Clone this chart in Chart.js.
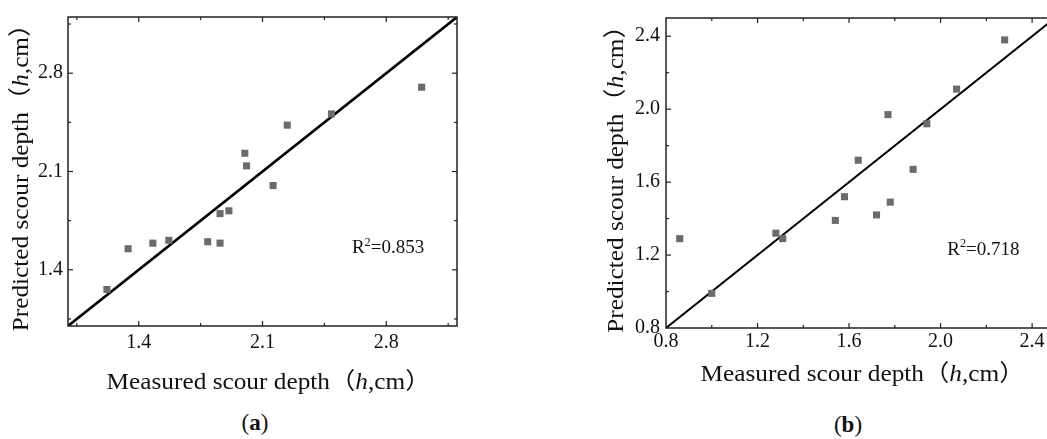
<!DOCTYPE html>
<html>
<head>
<meta charset="utf-8">
<script src="https://cdn.jsdelivr.net/npm/chart.js@4.4.1/dist/chart.umd.min.js"></script>
<style>
  html, body { margin: 0; padding: 0; background: #fff; }
  body { width: 1047px; height: 439px; overflow: hidden; position: relative; }
  .box { position: absolute; top: 0; height: 400px; }
  #boxA { left: 0; width: 470px; }
  #boxB { left: 570px; width: 500px; }
  .tag { position: absolute; font: 23px "Liberation Serif", serif; color: #111; transform: translate(-50%, -50%); }
  .tag b { font-weight: bold; }
</style>
</head>
<body>
<div class="box" id="boxA"><canvas id="chartA" width="470" height="400"></canvas></div>
<div class="box" id="boxB"><canvas id="chartB" width="500" height="400"></canvas></div>
<div class="tag" style="left:255px; top:423px">(<b>a</b>)</div>
<div class="tag" style="left:848px; top:425px">(<b>b</b>)</div>
<script>
// panel (a)
const measuredA = [1.22, 1.34, 1.48, 1.57, 1.79, 1.86, 1.86, 1.91, 2.00, 2.01, 2.16, 2.24, 2.49, 3.00];
const predictedA = [1.26, 1.55, 1.59, 1.61, 1.60, 1.59, 1.80, 1.82, 2.23, 2.14, 2.00, 2.43, 2.51, 2.70];
const lineA = [1.0, 3.2];
const ticksA = [1.4, 2.1, 2.8];
const minorA = [1.05, 1.75, 2.45, 3.15];
const r2A = "0.853";

// panel (b)
const measuredB = [0.86, 1.00, 1.28, 1.31, 1.54, 1.58, 1.64, 1.72, 1.77, 1.78, 1.88, 1.94, 2.07, 2.28];
const predictedB = [1.29, 0.99, 1.32, 1.29, 1.39, 1.52, 1.72, 1.42, 1.97, 1.49, 1.67, 1.92, 2.11, 2.38];
const lineB = [0.8, 2.5];
const ticksB = [0.8, 1.2, 1.6, 2.0, 2.4];
const minorB = [1.0, 1.4, 1.8, 2.2];
const r2B = "0.718";

const SERIF = '"Liberation Serif", "Noto Sans CJK SC", serif';

// draws a run of text pieces (some italic / superscript) centred on cx,cy
function drawRich(ctx, parts, cx, cy, size, rot, stretch) {
  ctx.save();
  ctx.translate(cx, cy);
  ctx.rotate(rot || 0);
  ctx.scale(stretch || 1, 1);
  ctx.fillStyle = "#111";
  ctx.textBaseline = "middle";
  const fontOf = p => (p.italic ? "italic " : "") + (p.sup ? size * 0.65 : size) + "px " + SERIF;
  let total = 0;
  parts.forEach(p => { ctx.font = fontOf(p); p.w = ctx.measureText(p.t).width; total += p.w; });
  let x = -total / 2;
  parts.forEach(p => {
    ctx.font = fontOf(p);
    ctx.fillText(p.t, x, p.sup ? -size * 0.3 : 0);
    x += p.w;
  });
  ctx.restore();
}

const frameTicks = {
  id: "frameTicks",
  afterDraw(chart, args, opts) {
    const { ctx, chartArea: a, scales: { x, y } } = chart;
    ctx.save();
    ctx.strokeStyle = "#222";
    ctx.lineWidth = 1.5;
    ctx.strokeRect(a.left, a.top, a.right - a.left, a.bottom - a.top);
    ctx.lineWidth = 1.2;
    const seg = (x1, y1, x2, y2) => { ctx.beginPath(); ctx.moveTo(x1, y1); ctx.lineTo(x2, y2); ctx.stroke(); };
    const marks = (vals, len) => {
      vals.forEach(v => {
        const px = x.getPixelForValue(v);
        if (px > a.left && px < a.right) {
          seg(px, a.bottom, px, a.bottom - len);
          seg(px, a.top, px, a.top + len);
        }
        const py = y.getPixelForValue(v);
        if (py > a.top && py < a.bottom) {
          seg(a.left, py, a.left + len, py);
          seg(a.right, py, a.right - len, py);
        }
      });
    };
    marks(opts.major, 5);
    marks(opts.minor, 3);
    ctx.restore();

    const cxTitle = (a.left + a.right) / 2 + (opts.xShift || 0);
    drawRich(ctx, [{ t: "Measured scour depth" }, { t: "（" }, { t: "h", italic: true }, { t: ",cm）" }],
      cxTitle, opts.xTitleY, 23, 0, 1.1);
    drawRich(ctx, [{ t: "Predicted scour depth" }, { t: "（" }, { t: "h", italic: true }, { t: ",cm）" }],
      opts.yTitleX, (a.top + a.bottom) / 2, 23, -Math.PI / 2, 1.1);
    drawRich(ctx, [{ t: "R" }, { t: "2", sup: true }, { t: "=" + opts.r2 }],
      x.getPixelForValue(opts.r2At[0]), y.getPixelForValue(opts.r2At[1]), 19, 0, 1);
  }
};

function makeChart(id, mx, my, fit, ticks, minor, r2, r2At, lay) {
  const tickList = scale => { scale.ticks = ticks.map(v => ({ value: v })); };
  const axis = (extra, pad) => Object.assign({
    type: "linear",
    min: fit[0],
    max: fit[1],
    afterBuildTicks: tickList,
    grid: { display: false, drawTicks: false },
    border: { display: false },
    ticks: {
      color: "#111",
      padding: pad,
      font: { family: SERIF, size: 20 },
      callback: v => v.toFixed(1)
    }
  }, extra);

  return new Chart(document.getElementById(id), {
    type: "scatter",
    data: {
      datasets: [
        {
          data: mx.map((v, i) => ({ x: v, y: my[i] })),
          pointStyle: "rect",
          pointRadius: 5,
          pointHoverRadius: 5,
          backgroundColor: "#6b6b6b",
          borderWidth: 0
        },
        {
          type: "line",
          data: fit.map(v => ({ x: v, y: v })),
          borderColor: "#000",
          borderWidth: lay.lineW,
          pointRadius: 0,
          fill: false
        }
      ]
    },
    options: {
      responsive: false,
      animation: false,
      layout: { padding: lay.pad },
      scales: {
        x: axis({ position: "bottom", afterFit: s => { s.height = lay.xH; } }, lay.xPad),
        y: axis({ position: "left", afterFit: s => { s.width = lay.yW; } }, lay.yPad)
      },
      plugins: {
        legend: { display: false },
        tooltip: { enabled: false },
        frameTicks: {
          major: ticks, minor: minor, r2: r2, r2At: r2At,
          xTitleY: lay.xTitleY, yTitleX: lay.yTitleX, xShift: lay.xShift
        }
      }
    },
    plugins: [frameTicks]
  });
}

makeChart("chartA", measuredA, predictedA, lineA, ticksA, minorA, r2A, [2.81, 1.555], {
  pad: { top: 15, right: 13, left: 0, bottom: 0 }, yW: 68, xH: 74, xPad: 5, yPad: 5,
  xTitleY: 383, yTitleX: 22, xShift: 6, lineW: 2.6
});

makeChart("chartB", measuredB, predictedB, lineB, ticksB, minorB, r2B, [2.187, 1.229], {
  pad: { top: 16, right: 15, left: 0, bottom: 0 }, yW: 96, xH: 72, xPad: 2, yPad: 6,
  xTitleY: 375, yTitleX: 47, xShift: 2, lineW: 2
});
</script>
</body>
</html>
